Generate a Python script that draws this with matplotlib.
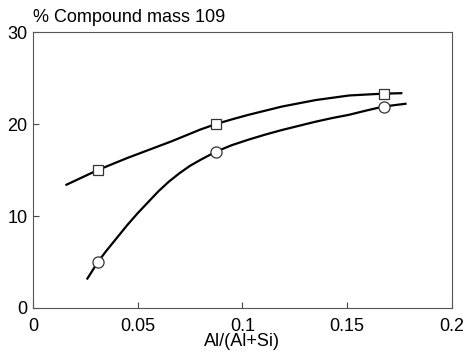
import matplotlib.pyplot as plt

# measured points
x_meas = [0.031, 0.0875, 0.1675]
sq_meas = [15.0, 20.0, 23.3]
ci_meas = [5.0, 17.0, 21.9]

# smooth curves
sq_curve_x = [0.016, 0.031, 0.038, 0.045, 0.052, 0.059, 0.066, 0.073, 0.080, 0.0875,
              0.095, 0.103, 0.111, 0.119, 0.127, 0.135, 0.143, 0.151, 0.159, 0.1675, 0.176]
sq_curve_y = [13.4, 15.0, 15.65, 16.3, 16.9, 17.5, 18.1, 18.75, 19.4, 20.0,
              20.5, 21.0, 21.45, 21.9, 22.25, 22.6, 22.85, 23.1, 23.2, 23.3, 23.35]
ci_curve_x = [0.026, 0.031, 0.035, 0.040, 0.045, 0.050, 0.055, 0.060, 0.065, 0.070, 0.075,
              0.080, 0.0875, 0.095, 0.103, 0.111, 0.119, 0.127, 0.135, 0.143, 0.151, 0.159,
              0.1675, 0.178]
ci_curve_y = [3.2, 5.0, 6.2, 7.6, 9.0, 10.3, 11.5, 12.7, 13.75, 14.65, 15.45,
              16.1, 17.0, 17.7, 18.3, 18.85, 19.35, 19.8, 20.25, 20.65, 21.0, 21.45,
              21.9, 22.2]

plt.rcParams['font.family'] = ['Liberation Sans', 'DejaVu Sans']

fig = plt.figure(figsize=(4.64, 3.53), dpi=100)
ax = fig.add_axes([0.0711, 0.1275, 0.902, 0.7818])

ax.plot(sq_curve_x, sq_curve_y, '-', color='black', linewidth=1.6, zorder=2)
ax.plot(ci_curve_x, ci_curve_y, '-', color='black', linewidth=1.6, zorder=2)
ax.plot(x_meas, sq_meas, 's', markersize=7, markerfacecolor='white',
        markeredgecolor='#333333', markeredgewidth=0.9, zorder=3)
ax.plot(x_meas, ci_meas, 'o', markersize=8, markerfacecolor='white',
        markeredgecolor='#333333', markeredgewidth=0.9, zorder=3)

ax.set_xlim(0, 0.2)
ax.set_ylim(0, 30)
ax.set_xticks([0, 0.05, 0.1, 0.15, 0.2])
ax.set_xticklabels(['0', '0.05', '0.1', '0.15', '0.2'])
ax.set_yticks([0, 10, 20, 30])
ax.tick_params(direction='in', length=4, width=0.8, color='#444444',
               labelsize=13, pad=4)
ax.tick_params(axis='x', pad=7)
for s in ax.spines.values():
    s.set_linewidth(0.8)
    s.set_color('#555555')

ax.set_xlabel('Al/(Al+Si)', fontsize=13, labelpad=-1)
fig.text(0.072, 0.925, '% Compound mass 109', fontsize=13, ha='left', va='bottom')

fig.savefig('out.png', dpi=100)
